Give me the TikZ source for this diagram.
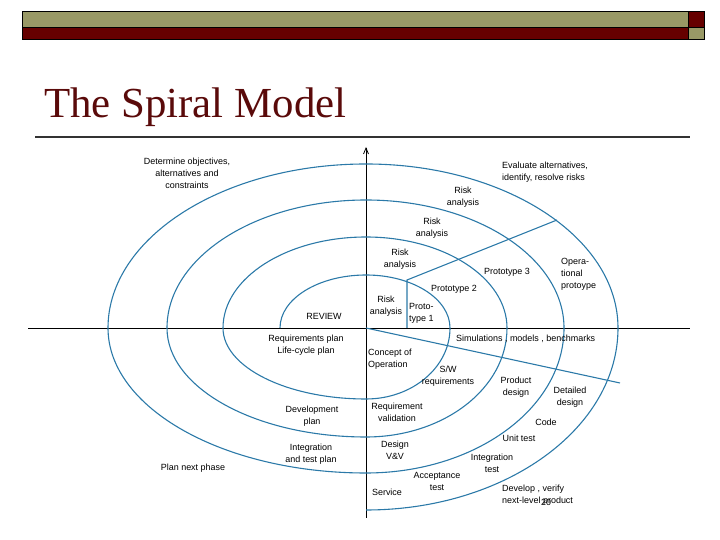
\documentclass[tikz,border=0pt]{standalone}
\usepackage{fontspec}
\setmainfont{Liberation Serif}
\setsansfont{Liberation Sans}
\usetikzlibrary{arrows.meta}
\definecolor{Olive}{HTML}{999966}
\definecolor{Maroon}{HTML}{660000}
\definecolor{Spiral}{HTML}{2B79A8}
\definecolor{Title}{HTML}{5A0A0A}
\tikzset{
    lbl/.style={font=\sffamily\fontsize{9}{12}\selectfont, align=center, inner sep=0pt},
    lbll/.style={lbl, align=left, anchor=west},
    spiral/.style={draw=Spiral, line width=1.1pt},
}
\begin{document}
\begin{tikzpicture}[x=1bp,y=1bp]
        \useasboundingbox (0,0) rectangle (720,540);
        % Banner
        \draw[fill=Olive, line width=1pt] (22,528) rectangle (688,512);
        \draw[fill=Maroon, line width=1pt] (688,528) rectangle (704,512);
        \draw[fill=Maroon, line width=1pt] (22,512) rectangle (688,500);
        \draw[fill=Olive, line width=1pt] (688,512) rectangle (704,500);

        % Title
        \node[anchor=base west, inner sep=0pt, text=Title, font=\fontsize{43}{47}\selectfont] (title) at (44,422) {The Spiral Model};
        \draw[line width=1.2pt, black!80] (35,403) -- (690,403);

        % Axes
        \def\cx{366}
        \def\cy{212}
        \draw[line width=0.8pt] (28,\cy) -- (690,\cy);
        \draw[line width=0.8pt, -{Straight Barb[length=6pt,width=5pt]}] (\cx,22) -- (\cx,393);

        % Spiral
        \draw[spiral] (280,\cy)
            arc[start angle=180, end angle=90, x radius=86, y radius=53]
            arc[start angle=90, end angle=0, x radius=84, y radius=53]
            arc[start angle=0, end angle=-90, x radius=84, y radius=71]
            arc[start angle=-90, end angle=-180, x radius=143, y radius=71]
            arc[start angle=180, end angle=90, x radius=143, y radius=91]
            arc[start angle=90, end angle=0, x radius=141, y radius=91]
            arc[start angle=0, end angle=-90, x radius=141, y radius=109]
            arc[start angle=-90, end angle=-180, x radius=199, y radius=109]
            arc[start angle=180, end angle=90, x radius=199, y radius=128]
            arc[start angle=90, end angle=0, x radius=198, y radius=128]
            arc[start angle=0, end angle=-90, x radius=198, y radius=145]
            arc[start angle=-90, end angle=-180, x radius=258, y radius=145]
            arc[start angle=180, end angle=90, x radius=258, y radius=164]
            arc[start angle=90, end angle=0, x radius=252, y radius=164]
            arc[start angle=0, end angle=-90, x radius=252, y radius=182];

        % Prototype lines
        \coordinate (p1) at (407,260);
        \draw[spiral] (407,\cy) -- (p1) -- (557,320);
        \draw[spiral] (\cx,\cy) -- (620,157);

        % Quadrant labels
        \node[lbl] (objectives) at (187,367) {Determine objectives,\\alternatives and\\constraints};
        \node[lbll] (evaluate) at (502,368) {Evaluate alternatives,\\identify, resolve risks};
        \node[lbl] (plannext) at (193,72) {Plan next phase};
        \node[lbll] (develop) at (502,45) {Develop , verify\\next-level product};
        \node[lbl] (pagenum) at (546,38) {20};

        % Risk analysis and prototypes
        \node[lbl] (risk4) at (463,343) {Risk\\analysis};
        \node[lbl] (risk3) at (432,312) {Risk\\analysis};
        \node[lbl] (risk2) at (400,281) {Risk\\analysis};
        \node[lbl] (risk1) at (386,234) {Risk\\analysis};
        \node[lbll] (proto1) at (409,227) {Proto-\\type 1};
        \node[lbl] (proto2) at (454,251) {Prototype 2};
        \node[lbl] (proto3) at (507,268) {Prototype 3};
        \node[lbll] (proto4) at (561,266) {Opera-\\tional\\protoype};

        % Planning
        \node[lbl] (review) at (324,224) {REVIEW};
        \node[lbl] (reqplan) at (306,195) {Requirements plan\\Life-cycle plan};
        \node[lbl] (devplan) at (312,124) {Development\\plan};
        \node[lbl] (intplan) at (311,86) {Integration\\and test plan};

        % Engineering
        \node[lbll] (simul) at (456,201) {Simulations , models , benchmarks};
        \node[lbll] (concept) at (368,181) {Concept of\\Operation};
        \node[lbl] (swreq) at (448,164) {S/W\\requirements};
        \node[lbl] (prodes) at (516,153) {Product\\design};
        \node[lbl] (detdes) at (570,143) {Detailed\\design};
        \node[lbl] (code) at (546,118) {Code};
        \node[lbl] (unit) at (519,102) {Unit test};
        \node[lbl] (reqval) at (397,128) {Requirement\\validation};
        \node[lbl] (desvv) at (395,90) {Design\\V\&V};
        \node[lbl] (inttest) at (492,77) {Integration\\test};
        \node[lbl] (accept) at (437,59) {Acceptance\\test};
        \node[lbl] (service) at (387,48) {Service};
\end{tikzpicture}
\end{document}
